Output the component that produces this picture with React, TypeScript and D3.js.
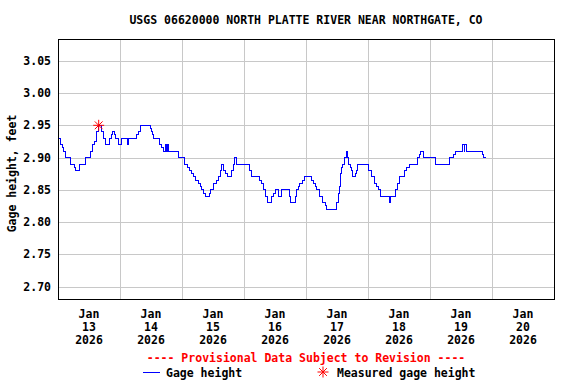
import React from 'react';
import * as d3 from 'd3';

const title = 'USGS 06620000 NORTH PLATTE RIVER NEAR NORTHGATE, CO';
const yTicks = [2.7, 2.75, 2.8, 2.85, 2.9, 2.95, 3.0, 3.05];
const dayLabels = ['13', '14', '15', '16', '17', '18', '19', '20'];

// gage height, hours after Jan 13 2026 00:00 -> feet (value holds until next entry)
const gageHours = [
  0, 0.25, 1, 1.75, 2.25, 2.75, 5, 6.25, 6.75, 8.5, 10.75, 12.75, 13.5, 14.25, 14.75, 15, 15.75,
  16.75, 17.5, 17.75, 18.25, 20, 20.75, 21.25, 21.75, 22.25, 23.25, 24.5, 26.75, 27.25, 30.5, 31,
  31.75, 35.75, 36.25, 36.75, 37, 39.25, 40.25, 40.75, 41.75, 42, 42.5, 42.75, 46.5, 49, 50, 51,
  51.75, 52.5, 53.25, 54.25, 55, 55.5, 56.25, 57, 58.5, 59, 60, 61.5, 62, 62.75, 63.25, 64.25, 65,
  65.5, 67, 67.75, 68.5, 69.25, 74.25, 75, 78, 78.75, 79.5, 80.5, 81, 82.75, 83.5, 84, 85.5, 86.5,
  89.5, 90, 92, 92.25, 93, 93.5, 94.5, 95.25, 98.25, 98.75, 99.5, 100.25, 101.25, 102.5, 103.5, 104,
  107.75, 108.5, 109, 109.25, 109.75, 110.25, 111, 111.5, 112, 112.5, 113.25, 113.5, 114, 115.25,
  115.5, 116, 120, 121.25, 122.5, 123.25, 124, 125, 128.25, 128.75, 130.5, 131.25, 132.25, 134.25,
  135, 136, 139, 140, 140.25, 141.5, 146, 151.5, 153, 153.75, 156.5, 157.25, 157.5, 158.25, 164.25,
  164.75, 165.5
];
const gageFeet = [
  2.94, 2.93, 2.92, 2.915, 2.91, 2.9, 2.89, 2.885, 2.88, 2.89, 2.9, 2.91, 2.92, 2.925, 2.93, 2.94, 2.95,
  2.94, 2.935, 2.93, 2.92, 2.93, 2.935, 2.94, 2.935, 2.93, 2.92, 2.93, 2.92, 2.93, 2.935, 2.94,
  2.95, 2.945, 2.94, 2.935, 2.93, 2.92, 2.915, 2.91, 2.92, 2.91, 2.92, 2.91, 2.9, 2.89, 2.885, 2.88,
  2.875, 2.87, 2.865, 2.86, 2.855, 2.85, 2.845, 2.84, 2.845, 2.85, 2.86, 2.865, 2.87, 2.88, 2.89, 2.88, 2.875,
  2.87, 2.88, 2.89, 2.9, 2.89, 2.88, 2.87, 2.865, 2.86, 2.85, 2.84, 2.83, 2.84, 2.845, 2.85, 2.84, 2.85,
  2.84, 2.83, 2.84, 2.85, 2.855, 2.86, 2.865, 2.87, 2.865, 2.86, 2.855, 2.85, 2.84, 2.83, 2.825, 2.82,
  2.83, 2.845, 2.855, 2.875, 2.885, 2.89, 2.9, 2.91, 2.9, 2.89, 2.885, 2.88, 2.87, 2.875,
  2.88, 2.89, 2.88, 2.87, 2.86, 2.855, 2.85, 2.84, 2.83, 2.84, 2.85, 2.86, 2.87, 2.88,
  2.885, 2.89, 2.9, 2.905, 2.91, 2.9, 2.89, 2.9, 2.905, 2.91, 2.92, 2.91, 2.92, 2.91, 2.905,
  2.9, 2.9
];

const measuredHours = [15.75];
const measuredFeet = [2.95];

const W = 576;
const H = 384;
const left = 58;
const right = 554;
const top = 39.5;
const bottom = 299.5;
const font = '"DejaVu Sans Mono", "Liberation Mono", monospace';
const fs = 11.5;

const crisp = (v: number) => Math.round(v) + 0.5;

function Asterisk({ cx, cy, r }: { cx: number; cy: number; r: number }) {
  const angles = [0, 45, 90, 135];
  return (
    <g stroke="#ff0000" strokeWidth={1}>
      {angles.map(a => {
        const rad = (a * Math.PI) / 180;
        return (
          <line key={a}
            x1={cx - r * Math.cos(rad)} y1={cy - r * Math.sin(rad)}
            x2={cx + r * Math.cos(rad)} y2={cy + r * Math.sin(rad)} />
        );
      })}
    </g>
  );
}

export default function App() {
  const start = new Date(2026, 0, 13);
  const end = new Date(2026, 0, 21);
  const x = d3.scaleTime().domain([start, end]).range([left, right]);
  const y = d3.scaleLinear().domain([2.68, 3.083]).range([bottom, top]);
  const at = (h: number) => d3.timeMinute.offset(start, Math.round(h * 60));

  const points: [Date, number][] = gageHours.map((h, i) => [at(h), gageFeet[i]]);
  const line = d3.line<[Date, number]>()
    .x(d => x(d[0]))
    .y(d => y(d[1]))
    .curve(d3.curveStepAfter);

  const days = d3.timeDay.range(start, end);
  const innerDays = days.slice(1);

  return (
    <svg width={W} height={H} style={{ position: 'absolute', left: 0, top: 0, background: '#fff' }}
      fontFamily={font} fontWeight="bold" fontSize={fs}>
      <text x={306} y={24} textAnchor="middle" fill="#000">{title}</text>

      {/* grid */}
      <g stroke="#c8c8c8" strokeWidth={1} shapeRendering="crispEdges">
        {yTicks.map(t => (
          <line key={t} x1={left} x2={right} y1={crisp(y(t))} y2={crisp(y(t))} />
        ))}
        {innerDays.map(d => (
          <line key={+d} x1={crisp(x(d))} x2={crisp(x(d))} y1={top} y2={bottom} />
        ))}
      </g>

      {/* y tick labels */}
      {yTicks.map(t => (
        <text key={t} x={51} y={y(t) + 4} textAnchor="end" fill="#000">{t.toFixed(2)}</text>
      ))}
      <text transform={`translate(16,${(top + bottom) / 2 + 4}) rotate(-90)`} textAnchor="middle" fill="#000">
        Gage height, feet
      </text>

      {/* x labels at noon */}
      {days.map((d, i) => {
        const cx = x(d3.timeHour.offset(d, 12));
        return (
          <text key={+d} textAnchor="middle" fill="#000">
            <tspan x={cx} y={318}>Jan</tspan>
            <tspan x={cx} y={331}>{dayLabels[i]}</tspan>
            <tspan x={cx} y={344}>2026</tspan>
          </text>
        );
      })}

      {/* data */}
      <path d={line(points) || ''} fill="none" stroke="#0000ff" strokeWidth={1} shapeRendering="crispEdges" />
      {measuredHours.map((h, i) => (
        <Asterisk key={h} cx={x(at(h))} cy={y(measuredFeet[i])} r={5.5} />
      ))}

      {/* frame */}
      <rect x={left + 0.5} y={top} width={right - left} height={bottom - top}
        fill="none" stroke="#000" strokeWidth={1} shapeRendering="crispEdges" />

      {/* legend */}
      <text x={306} y={362} textAnchor="middle" fill="#ff0000">
        ---- Provisional Data Subject to Revision ----
      </text>
      <line x1={143} x2={160} y1={372.5} y2={372.5} stroke="#0000ff" strokeWidth={1} />
      <text x={166} y={377} fill="#000">Gage height</text>
      <Asterisk cx={323} cy={372} r={5.5} />
      <text x={337} y={377} fill="#000">Measured gage height</text>
    </svg>
  );
}
